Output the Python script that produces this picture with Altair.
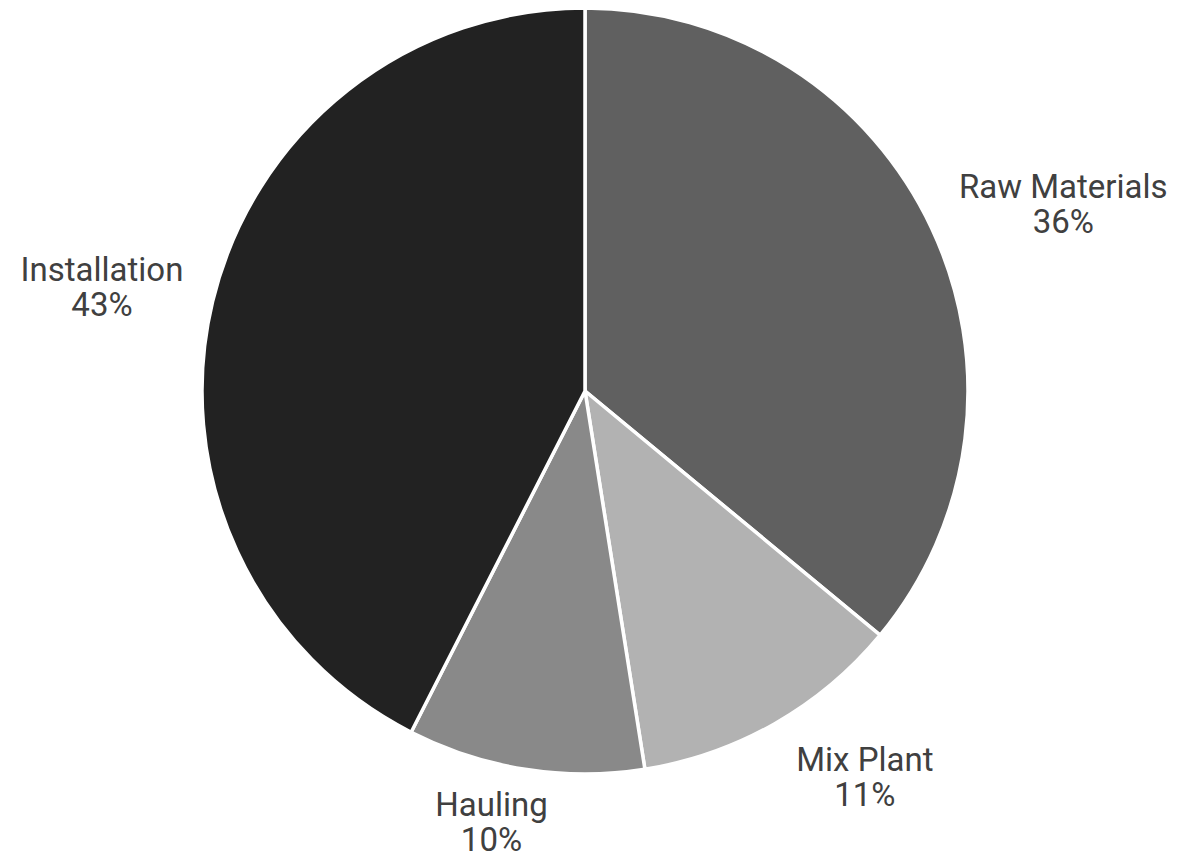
import math
import altair as alt
import pandas as pd

categories = ["Raw Materials", "Mix Plant", "Hauling", "Installation"]
values = [36.0, 11.5, 10.0, 42.5]
pct_labels = ["36%", "11%", "10%", "43%"]
colors = ["#606060", "#b2b2b2", "#898989", "#222222"]

df = pd.DataFrame({
    "category": categories,
    "value": values,
    "pct": pct_labels,
    "order": list(range(len(categories))),
})
df["label"] = [[c, p] for c, p in zip(categories, pct_labels)]
total = float(sum(values))

color_scale = alt.Scale(domain=categories, range=colors)

pie = alt.Chart(df).mark_arc(radius=383, stroke="white", strokeWidth=3.5).encode(
    theta=alt.Theta("value:Q", stack=True),
    order=alt.Order("order:Q"),
    color=alt.Color("category:N", scale=color_scale, legend=None),
)

# small nudges so that each label box sits outside the pie like the original
nudges = {
    "Raw Materials": (53, -3),
    "Mix Plant": (47, -38),
    "Hauling": (-20, -49),
    "Installation": (-26, -10),
}

text_base = alt.Chart(df).transform_window(
    cum="sum(value)", sort=[alt.SortField("order")]
).transform_calculate(mid="datum.cum - datum.value / 2")

layers = [pie]
for cat in categories:
    dx, dy = nudges[cat]
    layers.append(
        text_base.transform_filter(alt.datum.category == cat)
        .mark_text(
            radius=470, dx=dx, dy=dy, font="Roboto", fontSize=33,
            lineHeight=35, color="#404040", align="center", baseline="middle",
        )
        .encode(
            theta=alt.Theta("mid:Q", stack=None,
                            scale=alt.Scale(domain=[0, total], range=[0, 2 * math.pi])),
            text="label",
        )
    )

chart = alt.layer(*layers).resolve_scale(theta="independent").properties(
    width=1170,
    height=782,
    padding={"left": 0, "top": 0, "right": 7, "bottom": 74},
    autosize=alt.AutoSizeParams(type="none"),
).configure_view(stroke=None)

chart.save("out.html", embed_options={"renderer": "svg", "actions": False})
